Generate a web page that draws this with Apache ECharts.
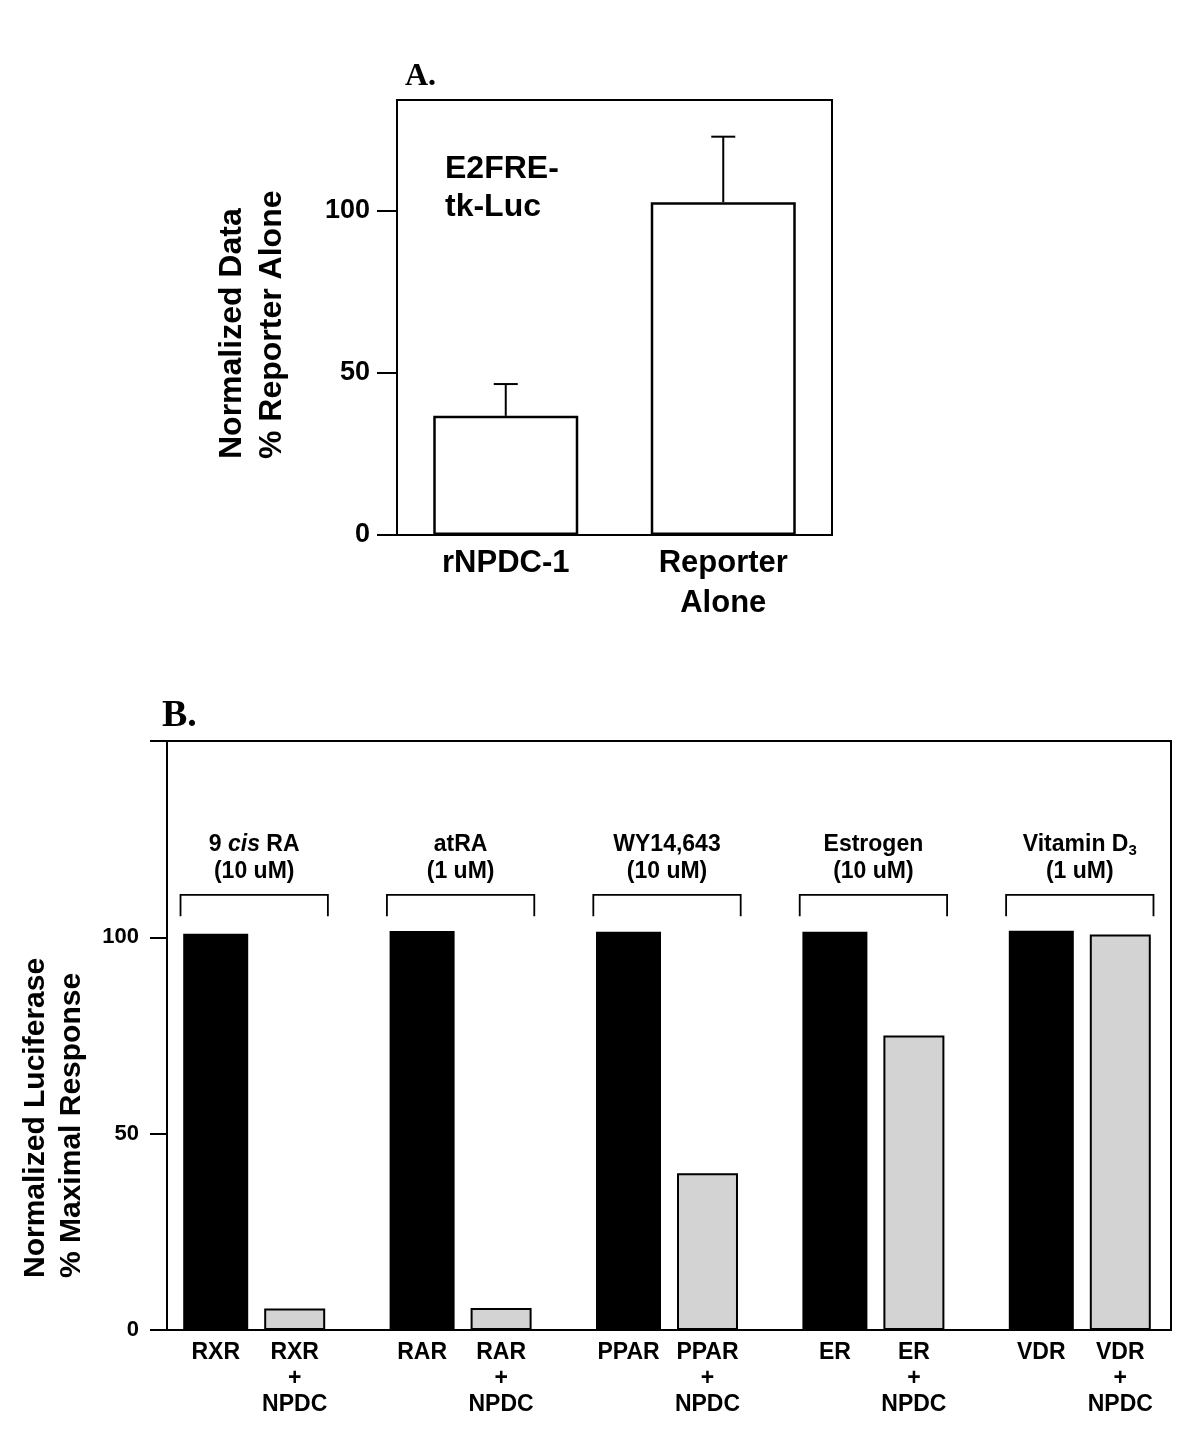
<!DOCTYPE html>
<html>
<head>
<meta charset="utf-8">
<script src="https://cdn.jsdelivr.net/npm/echarts@6/dist/echarts.min.js"></script>
<style>
html, body { margin: 0; padding: 0; background: #fff; }
#chart { width: 1197px; height: 1453px; }
</style>
</head>
<body>
<div id="chart"></div>
<script>
// ---------- Panel A data ----------
const constructs = ['rNPDC-1', 'Reporter\nAlone'];
const normalizedA = [36.7, 102.5];
const errorA = [9.8, 20.2];
const yTicksA = [0, 50, 100];
const Y_MAX_A = 134;

// ---------- Panel B data ----------
const receptors = ['RXR', 'RAR', 'PPAR', 'ER', 'VDR'];
const treatments = ['9 cis RA', 'atRA', 'WY14,643', 'Estrogen', 'Vitamin D3'];
const doses = ['(10 uM)', '(1 uM)', '(10 uM)', '(10 uM)', '(1 uM)'];
const receptorAlone = [100.9, 101.6, 101.4, 101.4, 101.7];
const receptorNPDC = [5.5, 5.6, 39.9, 75.0, 100.7];
const yTicksB = [0, 50, 100];
const Y_MAX_B = 150;

const FONT = "'Liberation Sans', Arial, Helvetica, sans-serif";
const SERIF = "'Liberation Serif', 'Times New Roman', serif";

// bracket / annotation levels (axis units of panel B)
const BR_TOP = 110.8, BR_BOT = 105.4, TXT_LEVEL = 120.1;

function richLabel(s) {
  return s.replace(/\bcis\b/, '{i|cis}').replace(/D3$/, 'D{sub|3}');
}

function errRender(params, api) {
  const x = api.value(0);
  const lo = api.coord([x, api.value(1)]);
  const hi = api.coord([x, api.value(2)]);
  const half = 12;
  return {
    type: 'group',
    children: [
      { type: 'line', shape: { x1: lo[0], y1: lo[1], x2: hi[0], y2: hi[1] }, style: { stroke: '#000', lineWidth: 2 } },
      { type: 'line', shape: { x1: hi[0] - half, y1: hi[1], x2: hi[0] + half, y2: hi[1] }, style: { stroke: '#000', lineWidth: 2 } }
    ]
  };
}

function bracketRender(params, api) {
  const i = api.value(0);
  const top = api.coord([i, BR_TOP]);
  const bot = api.coord([i, BR_BOT]);
  const txt = api.coord([i, TXT_LEVEL]);
  const hw = api.size([1, 0])[0] * 0.357;
  const base = { fontFamily: FONT, fontWeight: 'bold', fontSize: 23, fill: '#000', lineHeight: 27 };
  return {
    type: 'group',
    children: [
      {
        type: 'polyline',
        shape: { points: [[top[0] - hw, bot[1]], [top[0] - hw, top[1]], [top[0] + hw, top[1]], [top[0] + hw, bot[1]]] },
        style: { stroke: '#000', lineWidth: 1.8, fill: null }
      },
      {
        type: 'text',
        x: txt[0], y: txt[1],
        style: Object.assign({}, base, {
          text: richLabel(treatments[i]) + '\n' + doses[i],
          align: 'center', verticalAlign: 'middle',
          rich: {
            i: Object.assign({}, base, { fontStyle: 'italic' }),
            sub: Object.assign({}, base, { fontSize: 15, verticalAlign: 'bottom' })
          }
        })
      }
    ]
  };
}

const axisLineStyle = { color: '#000', width: 2 };

const chart = echarts.init(document.getElementById('chart'), null, { renderer: 'canvas' });
const option = {
  animation: false,
  backgroundColor: '#fff',
  grid: [
    { left: 397, top: 100, width: 435, height: 435, show: true, borderColor: '#000', borderWidth: 2, backgroundColor: 'transparent' },
    { left: 167, top: 741, width: 1004, height: 589, show: true, borderColor: '#000', borderWidth: 2, backgroundColor: 'transparent' },
    { left: 151, top: 741, width: 1032, height: 589, show: false }
  ],
  xAxis: [
    {
      gridIndex: 0, type: 'category', data: constructs,
      axisLine: { show: true, lineStyle: axisLineStyle },
      axisTick: { show: false },
      axisLabel: { color: '#000', fontFamily: FONT, fontWeight: 'bold', fontSize: 31, lineHeight: 40, margin: 8 }
    },
    {
      gridIndex: 1, type: 'category', data: receptors,
      axisLine: { show: true, lineStyle: axisLineStyle },
      axisTick: { show: false },
      axisLabel: { show: false }
    },
    { gridIndex: 2, type: 'category', data: receptors, show: false }
  ],
  yAxis: [
    {
      gridIndex: 0, type: 'value', min: 0, max: Y_MAX_A,
      splitLine: { show: false },
      axisLine: { show: true, lineStyle: axisLineStyle },
      axisTick: { show: true, length: 20, customValues: yTicksA, lineStyle: axisLineStyle },
      axisLabel: { customValues: yTicksA, margin: 27, color: '#000', fontFamily: FONT, fontWeight: 'bold', fontSize: 27 }
    },
    {
      gridIndex: 1, type: 'value', min: 0, max: Y_MAX_B,
      splitLine: { show: false },
      axisLine: { show: true, lineStyle: axisLineStyle },
      axisTick: { show: true, length: 17, customValues: yTicksB.concat([Y_MAX_B]), lineStyle: axisLineStyle },
      axisLabel: { customValues: yTicksB, margin: 28, color: '#000', fontFamily: FONT, fontWeight: 'bold', fontSize: 22 }
    },
    { gridIndex: 2, type: 'value', min: 0, max: Y_MAX_B, show: false }
  ],
  series: [
    {
      name: 'Normalized Data', type: 'bar', xAxisIndex: 0, yAxisIndex: 0,
      data: normalizedA, barWidth: 145,
      itemStyle: { color: '#fff', borderColor: '#000', borderWidth: 2.5 }
    },
    {
      name: 'SEM', type: 'custom', xAxisIndex: 0, yAxisIndex: 0, z: 5,
      data: normalizedA.map((v, i) => [i, v, v + errorA[i]]),
      renderItem: errRender
    },
    {
      name: 'Receptor', type: 'bar', xAxisIndex: 2, yAxisIndex: 2,
      data: receptorAlone, barWidth: 65, barGap: '24.6%',
      itemStyle: { color: '#000' },
      label: {
        show: true, position: 'bottom', distance: 10,
        formatter: p => receptors[p.dataIndex],
        color: '#000', fontFamily: FONT, fontWeight: 'bold', fontSize: 23, lineHeight: 26
      }
    },
    {
      name: 'Receptor + NPDC', type: 'bar', xAxisIndex: 2, yAxisIndex: 2,
      data: receptorNPDC, barWidth: 61, barGap: '24.6%',
      itemStyle: { color: '#d3d3d3', borderColor: '#000', borderWidth: 2 },
      label: {
        show: true, position: 'bottom', distance: 10,
        formatter: p => receptors[p.dataIndex] + '\n+\nNPDC',
        color: '#000', fontFamily: FONT, fontWeight: 'bold', fontSize: 23, lineHeight: 26
      }
    },
    {
      name: 'Treatment', type: 'custom', xAxisIndex: 2, yAxisIndex: 2,
      data: treatments.map((t, i) => [i, BR_TOP]),
      renderItem: bracketRender
    }
  ],
  graphic: [
    { type: 'text', x: 405, y: 77, style: { text: 'A.', font: 'bold 32px ' + SERIF, fill: '#000', align: 'left', verticalAlign: 'middle' } },
    { type: 'text', x: 162, y: 716, style: { text: 'B.', font: 'bold 38px ' + SERIF, fill: '#000', align: 'left', verticalAlign: 'middle' } },
    { type: 'text', x: 445, y: 188, style: { text: 'E2FRE-\ntk-Luc', font: 'bold 32px ' + FONT, fill: '#000', align: 'left', verticalAlign: 'middle', lineHeight: 38 } },
    { type: 'text', x: 252, y: 459, rotation: Math.PI / 2, style: { text: 'Normalized Data\n% Reporter Alone', font: 'bold 32px ' + FONT, fill: '#000', align: 'left', verticalAlign: 'middle', lineHeight: 40 } },
    { type: 'text', x: 54, y: 1278, rotation: Math.PI / 2, style: { text: 'Normalized Luciferase\n% Maximal Response', font: 'bold 30px ' + FONT, fill: '#000', align: 'left', verticalAlign: 'middle', lineHeight: 36 } }
  ]
};
chart.setOption(option);
</script>
</body>
</html>
